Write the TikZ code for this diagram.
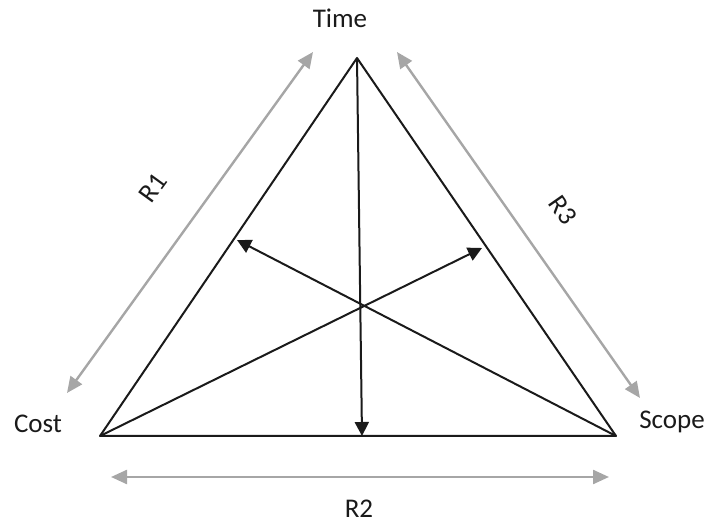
\documentclass[tikz,border=0pt]{standalone}
\usepackage{fontspec}
\setmainfont{Carlito}
\usetikzlibrary{arrows.meta}
\definecolor{Ink}{HTML}{1A1A1A}
\definecolor{Soft}{HTML}{A6A6A6}
\tikzset{
  labeltext/.style={font=\fontsize{27}{30}\selectfont,text=Ink,inner sep=0pt},
  side/.style={draw=Ink,line width=2pt,line join=round},
  pull/.style={-{Triangle[length=14pt,width=14pt]},draw=Ink,line width=2pt},
  span/.style={{Triangle[length=16pt,width=14pt]}-{Triangle[length=16pt,width=14pt]},draw=Soft,line width=2.4pt}
}

\begin{document}
\begin{tikzpicture}[x=1pt,y=-1pt]
  \useasboundingbox (0,0) rectangle (710,526);
  % corners of the triangle
  \coordinate (time) at (357,58);
  \coordinate (cost) at (100,436);
  \coordinate (scope) at (616,436);
  % ends of the inner arrows
  \coordinate (tbase) at (362,436);
  \coordinate (cside) at (237,240);
  \coordinate (sside) at (482,248);
  % ends of the outer arrows
  \coordinate (r1a) at (313,52);
  \coordinate (r1b) at (67,393);
  \coordinate (r2a) at (111,477);
  \coordinate (r2b) at (609,477);
  \coordinate (r3a) at (397,52);
  \coordinate (r3b) at (640,398);

  \node[labeltext] (timelbl) at (340,18) {Time};
  \node[labeltext] (costlbl) at (38,424) {Cost};
  \node[labeltext] (scopelbl) at (672,422) {Scope};
  \node[labeltext,rotate=54] (r1) at (153,188) {R1};
  \node[labeltext] (r2) at (359,509) {R2};
  \node[labeltext,rotate=-55] (r3) at (563,210) {R3};

  \draw[side] (time) -- (cost) -- (scope) -- cycle;
  \draw[pull] (time) -- (tbase);
  \draw[pull] (scope) -- (cside);
  \draw[pull] (cost) -- (sside);

  \draw[span] (r1b) -- (r1a);
  \draw[span] (r2a) -- (r2b);
  \draw[span] (r3a) -- (r3b);
\end{tikzpicture}
\end{document}
